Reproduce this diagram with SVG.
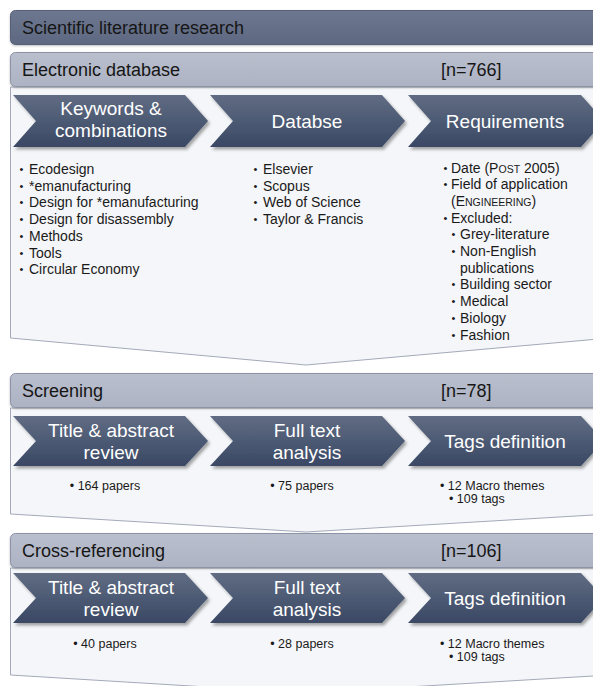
<svg xmlns="http://www.w3.org/2000/svg" width="593" height="686" viewBox="0 0 593 686">
<defs>
<linearGradient id="gChev" x1="0" y1="0" x2="0" y2="1">
<stop offset="0" stop-color="#606c83"/>
<stop offset="1" stop-color="#3a4864"/>
</linearGradient>
<linearGradient id="gTop" x1="0" y1="0" x2="0" y2="1">
<stop offset="0" stop-color="#6d7790"/>
<stop offset="1" stop-color="#5e6881"/>
</linearGradient>
<linearGradient id="gBar" x1="0" y1="0" x2="0" y2="1">
<stop offset="0" stop-color="#b9bfcd"/>
<stop offset="1" stop-color="#adb3c3"/>
</linearGradient>
<filter id="sh" x="-10%" y="-20%" width="130%" height="150%">
<feDropShadow dx="2" dy="2.5" stdDeviation="1.5" flood-color="#000" flood-opacity="0.35"/>
</filter>
<filter id="sh2" x="-5%" y="-20%" width="110%" height="150%">
<feDropShadow dx="0" dy="1" stdDeviation="0.8" flood-color="#000" flood-opacity="0.25"/>
</filter>
</defs>
<style>
text{font-family:"Liberation Sans",Arial,sans-serif;}
.bar{fill:url(#gBar);stroke:#8c93a6;stroke-width:1;filter:url(#sh2);}
.top{fill:url(#gTop);stroke:#545e77;stroke-width:1;filter:url(#sh2);}
.panel{fill:#f5f6f9;stroke:#a3a9b9;stroke-width:1;}
.chev{fill:url(#gChev);filter:url(#sh);}
.bt{font-size:18px;fill:#161616;}
.ct{font-size:19px;fill:#ffffff;text-anchor:middle;}
.li{font-size:14px;fill:#1a1a1a;}
.sm{font-size:12.5px;fill:#1a1a1a;}
.sc{font-size:10.5px;}
.b{font-size:11px;}
</style>

<g id="header">
<rect class="top" x="10.5" y="10.5" width="600" height="34" rx="5"/>
<text class="bt" x="22" y="34">Scientific literature research</text>
</g>

<g id="section-electronic-database">
<path class="panel" d="M10.5,87 L610,87 L610,338 L306,365 L10.5,338 Z"/>
<rect class="bar" x="10.5" y="52.5" width="600" height="34" rx="5"/>
<text class="bt" x="22" y="76">Electronic database</text>
<text class="bt" x="441" y="76">[n=766]</text>
</g>

<g id="chev-keywords">
<path class="chev" d="M13,95 L185,95 L208,121 L185,147 L13,147 L36,121 Z"/>
<text class="ct" x="111" y="115">Keywords &amp;</text>
<text class="ct" x="111" y="137">combinations</text>
</g>
<g id="chev-database">
<path class="chev" d="M210,95 L382,95 L405,121 L382,147 L210,147 L233,121 Z"/>
<text class="ct" x="307" y="128">Databse</text>
</g>
<g id="chev-requirements">
<path class="chev" d="M408,95 L581,95 L604,121 L581,147 L408,147 L431,121 Z"/>
<text class="ct" x="505" y="128">Requirements</text>
</g>

<g id="list-keywords">
<text class="li" x="19.5" y="174"><tspan class="b" dy="-1">•</tspan><tspan x="29" dy="1">Ecodesign</tspan></text>
<text class="li" x="19.5" y="190.7"><tspan class="b" dy="-1">•</tspan><tspan x="29" dy="1">*emanufacturing</tspan></text>
<text class="li" x="19.5" y="207.4"><tspan class="b" dy="-1">•</tspan><tspan x="29" dy="1">Design for *emanufacturing</tspan></text>
<text class="li" x="19.5" y="224.1"><tspan class="b" dy="-1">•</tspan><tspan x="29" dy="1">Design for disassembly</tspan></text>
<text class="li" x="19.5" y="240.8"><tspan class="b" dy="-1">•</tspan><tspan x="29" dy="1">Methods</tspan></text>
<text class="li" x="19.5" y="257.5"><tspan class="b" dy="-1">•</tspan><tspan x="29" dy="1">Tools</tspan></text>
<text class="li" x="19.5" y="274.2"><tspan class="b" dy="-1">•</tspan><tspan x="29" dy="1">Circular Economy</tspan></text>
</g>

<g id="list-database">
<text class="li" x="253.5" y="174"><tspan class="b" dy="-1">•</tspan><tspan x="263" dy="1">Elsevier</tspan></text>
<text class="li" x="253.5" y="190.7"><tspan class="b" dy="-1">•</tspan><tspan x="263" dy="1">Scopus</tspan></text>
<text class="li" x="253.5" y="207.4"><tspan class="b" dy="-1">•</tspan><tspan x="263" dy="1">Web of Science</tspan></text>
<text class="li" x="253.5" y="224.1"><tspan class="b" dy="-1">•</tspan><tspan x="263" dy="1">Taylor &amp; Francis</tspan></text>
</g>

<g id="list-requirements">
<text class="li" x="443.5" y="172.5"><tspan class="b" dy="-1">•</tspan><tspan x="451" dy="1">Date (P<tspan class="sc">OST</tspan> 2005)</tspan></text>
<text class="li" x="443.5" y="189.2"><tspan class="b" dy="-1">•</tspan><tspan x="451" dy="1">Field of application</tspan></text>
<text class="li" x="451" y="205.9">(E<tspan class="sc">NGINEERING</tspan>)</text>
<text class="li" x="443.5" y="222.6"><tspan class="b" dy="-1">•</tspan><tspan x="451" dy="1">Excluded:</tspan></text>
<text class="li" x="451.5" y="239.3"><tspan class="b" dy="-1">•</tspan><tspan x="460" dy="1">Grey-literature</tspan></text>
<text class="li" x="451.5" y="256"><tspan class="b" dy="-1">•</tspan><tspan x="460" dy="1">Non-English</tspan></text>
<text class="li" x="460" y="272.7">publications</text>
<text class="li" x="451.5" y="289.4"><tspan class="b" dy="-1">•</tspan><tspan x="460" dy="1">Building sector</tspan></text>
<text class="li" x="451.5" y="306.1"><tspan class="b" dy="-1">•</tspan><tspan x="460" dy="1">Medical</tspan></text>
<text class="li" x="451.5" y="322.8"><tspan class="b" dy="-1">•</tspan><tspan x="460" dy="1">Biology</tspan></text>
<text class="li" x="451.5" y="339.5"><tspan class="b" dy="-1">•</tspan><tspan x="460" dy="1">Fashion</tspan></text>
</g>

<g id="section-screening">
<path class="panel" d="M10.5,408 L610,408 L610,514 L306,532 L10.5,514 Z"/>
<rect class="bar" x="10.5" y="373.5" width="600" height="34" rx="5"/>
<text class="bt" x="22" y="397">Screening</text>
<text class="bt" x="441" y="397">[n=78]</text>
</g>
<g id="chev-s-title">
<path class="chev" d="M13,416 L185,416 L208,441 L185,466 L13,466 L36,441 Z"/>
<text class="ct" x="111" y="437">Title &amp; abstract</text>
<text class="ct" x="111" y="459">review</text>
</g>
<g id="chev-s-fulltext">
<path class="chev" d="M210,416 L382,416 L405,441 L382,466 L210,466 L233,441 Z"/>
<text class="ct" x="307" y="437">Full text</text>
<text class="ct" x="307" y="459">analysis</text>
</g>
<g id="chev-s-tags">
<path class="chev" d="M408,416 L581,416 L604,441 L581,466 L408,466 L431,441 Z"/>
<text class="ct" x="505" y="448">Tags definition</text>
</g>
<g id="s-results">
<text class="sm" x="105" y="490" text-anchor="middle">• 164 papers</text>
<text class="sm" x="302" y="490" text-anchor="middle">• 75 papers</text>
<text class="sm" x="440" y="490">• 12 Macro themes</text>
<text class="sm" x="449" y="503">• 109 tags</text>
</g>

<g id="section-cross-referencing">
<path class="panel" d="M10.5,568 L610,568 L610,675 L306,693 L10.5,675 Z"/>
<rect class="bar" x="10.5" y="533.5" width="600" height="34" rx="5"/>
<text class="bt" x="22" y="557">Cross-referencing</text>
<text class="bt" x="441" y="557">[n=106]</text>
</g>
<g id="chev-c-title">
<path class="chev" d="M13,573 L185,573 L208,598 L185,623 L13,623 L36,598 Z"/>
<text class="ct" x="111" y="594">Title &amp; abstract</text>
<text class="ct" x="111" y="616">review</text>
</g>
<g id="chev-c-fulltext">
<path class="chev" d="M210,573 L382,573 L405,598 L382,623 L210,623 L233,598 Z"/>
<text class="ct" x="307" y="594">Full text</text>
<text class="ct" x="307" y="616">analysis</text>
</g>
<g id="chev-c-tags">
<path class="chev" d="M408,573 L581,573 L604,598 L581,623 L408,623 L431,598 Z"/>
<text class="ct" x="505" y="605">Tags definition</text>
</g>
<g id="c-results">
<text class="sm" x="105" y="648" text-anchor="middle">• 40 papers</text>
<text class="sm" x="302" y="648" text-anchor="middle">• 28 papers</text>
<text class="sm" x="440" y="648">• 12 Macro themes</text>
<text class="sm" x="449" y="661">• 109 tags</text>
</g>

<g id="connectors"/>
</svg>
